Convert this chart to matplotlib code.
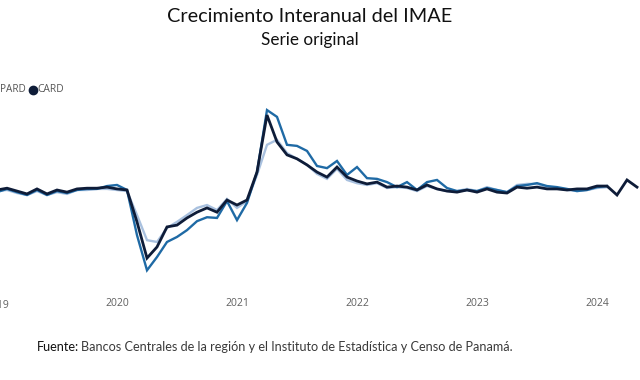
import matplotlib
matplotlib.use("Agg")
import matplotlib.pyplot as plt
from matplotlib.lines import Line2D

# Monthly year-on-year IMAE growth (%), Jan 2019 onward (month index 0 = Jan 2019)
card = [3.5, 4.0, 3.2, 2.4, 3.8, 2.4, 3.5, 2.9, 3.8, 4.0, 4.0, 4.3,
        3.8, 3.5, -5.4, -15.5, -12.4, -6.8, -6.3, -4.3, -2.7, -1.5, -2.7, 0.7,
        -0.7, 0.7, 8.5, 24.4, 16.9, 13.3, 12.2, 10.5, 8.5, 7.1, 9.9, 7.1,
        6.0, 5.2, 5.7, 4.3, 4.6, 4.3, 3.5, 4.9, 3.8, 3.2, 2.9, 3.5,
        2.9, 3.8, 2.9, 2.65, 4.3, 4.0, 4.3, 3.8, 3.8, 3.5, 3.8, 3.8,
        4.6, 4.6, 2.1, 6.3, 4.3]
capard = [2.9, 3.8, 2.9, 2.1, 3.5, 2.1, 3.2, 2.65, 3.5, 3.8, 3.8, 4.6,
          4.9, 3.5, -9.1, -18.9, -15.2, -11.0, -9.6, -7.7, -5.2, -4.1, -4.3, 0.4,
          -4.9, -0.1, 8.5, 25.8, 23.9, 16.1, 15.8, 14.4, 10.2, 9.6, 11.6, 7.7,
          9.9, 6.8, 6.6, 5.7, 4.3, 5.7, 3.5, 5.7, 6.3, 4.05, 3.2, 3.5,
          3.2, 4.05, 3.5, 2.9, 4.6, 4.9, 5.4, 4.6, 4.3, 3.8, 3.2, 3.5,
          4.3, 4.6]
ca = [3.2, 3.5, 2.65, 2.1, 3.2, 2.1, 2.9, 2.4, 3.5, 3.5, 3.8, 3.8,
      3.5, 3.2, -3.5, -10.5, -11.0, -7.1, -5.4, -3.5, -1.5, -0.7, -2.1, 1.0,
      -1.5, 0.4, 7.7, 16.1, 17.5, 13.8, 12.2, 10.5, 8.0, 6.6, 9.4, 6.3,
      5.4, 4.9, 5.4, 4.05, 4.3, 4.05, 3.2, 4.6, 3.8, 3.2, 3.2, 3.8,
      3.2, 4.3, 3.5, 2.9, 4.9, 5.2, 5.2, 4.3, 4.05, 3.5, 3.2, 3.5,
      4.05, 4.3]
year_ticks = [12, 24, 36, 48, 60]
year_labels = ["2020", "2021", "2022", "2023", "2024"]

c_dark = "#0e1c38"
c_mid = "#1f6aa5"
c_light = "#a9c1df"

fig = plt.figure(figsize=(6.4, 3.8), dpi=100)
ax = fig.add_axes([0, 90 / 380, 1, 195 / 380])

ax.plot(range(len(ca)), ca, color=c_light, lw=1.7, solid_joinstyle="miter")
ax.plot(range(len(capard)), capard, color=c_mid, lw=1.7, solid_joinstyle="miter")
ax.plot(range(len(card)), card, color=c_dark, lw=2.0, solid_joinstyle="miter")

ax.set_xlim(0.3, 64.3)
ax.set_ylim(-24.4, 30.0)
ax.set_yticks([])
ax.set_xticks(year_ticks)
ax.set_xticklabels(year_labels, fontsize=7.5, color="#606060", family="Open Sans")
ax.tick_params(axis="x", length=0, pad=6)
for s in ax.spines.values():
    s.set_visible(False)
ax.text(0, -0.052, "2019", transform=ax.get_xaxis_transform(), ha="center", va="top",
        fontsize=7.5, color="#606060", family="Open Sans", clip_on=False)

fig.text(310 / 640, 1 - 16 / 380, "Crecimiento Interanual del IMAE", ha="center", va="center",
         fontsize=14.3, color="#111111", family="Lato")
fig.text(310 / 640, 1 - 40 / 380, "Serie original", ha="center", va="center",
         fontsize=12.3, color="#111111", family="Lato")

# legend (partially visible)
fig.text(0 / 640, 1 - 90 / 380, "PARD", ha="left", va="center", fontsize=7.2,
         color="#555555", family="Open Sans")
fig.add_artist(Line2D([32.5 / 640], [1 - 89.5 / 380], marker="o", markersize=6,
                      color=c_dark, transform=fig.transFigure))
fig.text(37.5 / 640, 1 - 90 / 380, "CARD", ha="left", va="center", fontsize=7.4,
         color="#555555", family="Open Sans")

t = fig.text(37 / 640, 1 - 347 / 380, "Fuente:", ha="left", va="center", fontsize=9.1,
             color="#111111", family="Lato")
fig.canvas.draw()
bb = t.get_window_extent()
fig.text(bb.x1 / 640 + 2 / 640, 1 - 347 / 380,
         "Bancos Centrales de la región y el Instituto de Estadística y Censo de Panamá.",
         ha="left", va="center", fontsize=9.1, color="#3a3a3a", family="Lato")

fig.savefig("out.png", dpi=100)
